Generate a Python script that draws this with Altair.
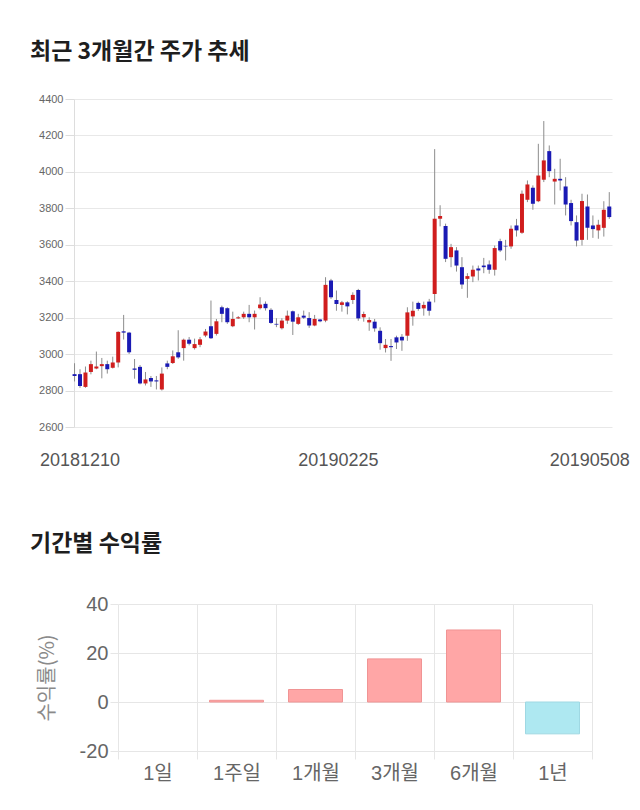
import altair as alt
import pandas as pd

# ---- trading days (Dec 10 2018 .. May 8 2019) ----
dec = [10, 11, 12, 13, 14, 17, 18, 19, 20, 21, 24, 26, 27, 28]
jan = [2, 3, 4, 7, 8, 9, 10, 11, 14, 15, 16, 17, 18, 21, 22, 23, 24, 25, 28, 29, 30, 31]
feb = [1, 7, 8, 11, 12, 13, 14, 15, 18, 19, 20, 21, 22, 25, 26, 27, 28]
mar = [4, 5, 6, 7, 8, 11, 12, 13, 14, 15, 18, 19, 20, 21, 22, 25, 26, 27, 28, 29]
apr = [1, 2, 3, 4, 5, 8, 9, 10, 11, 12, 15, 16, 17, 18, 19, 22, 23, 24, 25, 26, 29, 30]
may = [2, 3, 7, 8]
dates = ([f"201812{d:02d}" for d in dec] + [f"201901{d:02d}" for d in jan] +
         [f"201902{d:02d}" for d in feb] + [f"201903{d:02d}" for d in mar] +
         [f"201904{d:02d}" for d in apr] + [f"201905{d:02d}" for d in may])
tick_dates = ["20181210", "20190225", "20190508"]

opens = [2890, 2890, 2820, 2902, 2921, 2934, 2945, 2925, 2954, 3125,
         3118, 2921, 2930, 2839, 2869, 2856, 2806, 2949, 2951, 3010,
         3033, 3079, 3033, 3051, 3102, 3153, 3111, 3257, 3252, 3153,
         3196, 3202, 3221, 3202, 3252, 3276, 3243, 3166, 3142, 3184,
         3235, 3166, 3211, 3198, 3157, 3190, 3184, 3404, 3297, 3270,
         3284, 3297, 3352, 3202, 3174, 3178, 3128, 3033, 3044, 3092,
         3095, 3101, 3207, 3281, 3251, 3288, 3330, 3743, 3703, 3532,
         3569, 3477, 3413, 3426, 3470, 3486, 3492, 3463, 3620, 3594,
         3591, 3706, 3666, 3847, 3913, 3839, 3957, 4114, 3947, 3962,
         3920, 3829, 3724, 3627, 3810, 3706, 3679, 3693, 3810]
highs = [2950, 2917, 2932, 2964, 3014, 2979, 2964, 2986, 3125, 3215,
         3122, 2973, 2940, 2902, 2880, 2880, 2927, 2964, 3020, 3131,
         3085, 3094, 3085, 3094, 3138, 3294, 3193, 3266, 3257, 3233,
         3209, 3233, 3270, 3239, 3312, 3289, 3252, 3197, 3197, 3239,
         3239, 3221, 3239, 3230, 3215, 3193, 3422, 3413, 3349, 3292,
         3290, 3339, 3358, 3233, 3202, 3193, 3147, 3083, 3083, 3101,
         3110, 3257, 3288, 3288, 3288, 3303, 4125, 3817, 3716, 3605,
         3587, 3532, 3444, 3486, 3486, 3528, 3514, 3596, 3633, 3627,
         3706, 3742, 3898, 3953, 3926, 4154, 4279, 4145, 4017, 4072,
         3971, 3847, 3761, 3880, 3876, 3761, 3737, 3839, 3889]
lows = [2850, 2815, 2815, 2889, 2917, 2867, 2893, 2921, 2927, 3080,
        3001, 2865, 2834, 2828, 2820, 2806, 2800, 2917, 2946, 2974,
        2964, 3048, 3025, 3038, 3093, 3083, 3102, 3175, 3166, 3148,
        3193, 3193, 3175, 3135, 3245, 3239, 3166, 3148, 3135, 3166,
        3105, 3160, 3193, 3144, 3153, 3175, 3175, 3303, 3238, 3233,
        3218, 3275, 3183, 3178, 3128, 3123, 3024, 3009, 2963, 3028,
        3018, 3073, 3156, 3238, 3211, 3211, 3284, 3701, 3505, 3477,
        3453, 3358, 3309, 3395, 3404, 3444, 3441, 3431, 3560, 3514,
        3578, 3645, 3660, 3834, 3792, 3834, 3944, 3971, 3821, 3898,
        3761, 3706, 3591, 3596, 3627, 3638, 3633, 3645, 3742]
closes = [2880, 2825, 2899, 2945, 2932, 2945, 2917, 2954, 3122, 3118,
          3010, 2914, 2839, 2861, 2850, 2850, 2893, 2930, 2988, 2982,
          3079, 3057, 3055, 3081, 3124, 3087, 3180, 3221, 3175, 3193,
          3202, 3221, 3202, 3221, 3272, 3252, 3171, 3162, 3184, 3211,
          3178, 3202, 3200, 3157, 3193, 3180, 3380, 3312, 3275, 3284,
          3262, 3325, 3196, 3220, 3187, 3141, 3060, 3051, 3038, 3064,
          3075, 3229, 3238, 3248, 3270, 3238, 3743, 3758, 3523, 3587,
          3486, 3382, 3428, 3463, 3459, 3477, 3463, 3582, 3569, 3591,
          3688, 3679, 3880, 3931, 3825, 3980, 4063, 4004, 3962, 3953,
          3821, 3730, 3623, 3840, 3693, 3686, 3710, 3792, 3752]
y_ticks = [2600, 2800, 3000, 3200, 3400, 3600, 3800, 4000, 4200, 4400]

periods = ["1일", "1주일", "1개월", "3개월", "6개월", "1년"]
returns = [0.0, 0.7, 5.1, 17.6, 29.4, -13.0]
ret_ticks = [-20, 0, 20, 40]

KR = "Noto Sans CJK KR"
LAT = "Liberation Sans, Noto Sans CJK KR, sans-serif"
RED = "#d01d1d"
BLUE = "#1a1ab4"

df = pd.DataFrame({"i": list(range(len(dates))), "date": dates,
                   "open": opens, "high": highs, "low": lows, "close": closes})
tick_idx = [dates.index(d) for d in tick_dates]
label_expr = (f"datum.value == {tick_idx[0]} ? '{tick_dates[0]}' : "
              f"datum.value == {tick_idx[1]} ? '{tick_dates[1]}' : '{tick_dates[2]}'")

x_enc = alt.X(
    "i:Q",
    scale=alt.Scale(domain=[-0.1, len(dates) - 0.5], nice=False, zero=False, padding=0),
    axis=alt.Axis(values=tick_idx, labelExpr=label_expr, title=None, grid=False,
                  ticks=False, domain=False, labelFontSize=18, labelColor="#555555",
                  labelFont=LAT, labelPadding=24, labelFlush=False, labelOverlap=False,
                  labelOffset={"condition": [{"test": f"datum.value == {tick_idx[0]}", "value": 5},
                                             {"test": f"datum.value == {tick_idx[2]}", "value": -20}],
                               "value": -4}),
)
y_scale = alt.Scale(domain=[2600, 4400], nice=False, zero=False, padding=0)
y_axis = alt.Axis(values=y_ticks, title=None, labelExpr="'' + datum.value",
                  labelFontSize=11, labelColor="#666666",
                  labelFont=LAT, gridColor="#e8e8e8", tickColor="#dddddd", tickSize=9,
                  domainColor="#dddddd", labelPadding=2)

wicks = alt.Chart(df).mark_rule(color="#8c8c8c", strokeWidth=1).encode(
    x=x_enc, y=alt.Y("low:Q", scale=y_scale, axis=y_axis), y2="high:Q")
bodies = alt.Chart(df).mark_bar(size=4).encode(
    x=x_enc, y=alt.Y("open:Q", scale=y_scale, axis=y_axis), y2="close:Q",
    color=alt.condition("datum.close > datum.open", alt.value(RED), alt.value(BLUE)))

top = alt.layer(wicks, bodies).properties(
    width=538, height=328,
    title=alt.Title("최근 3개월간 주가 추세", anchor="start", frame="group", dx=-44, offset=11,
                    baseline="alphabetic", fontSize=23, font=KR, fontWeight="bold",
                    color="#1e1e1e"))

df2 = pd.DataFrame({"period": periods, "ret": returns})
bars = alt.Chart(df2).mark_bar(strokeWidth=1, size=54).encode(
    x=alt.X("period:N", sort=periods,
            scale=alt.Scale(paddingInner=0, paddingOuter=0),
            axis=alt.Axis(title=None, labelAngle=0, labelFontSize=20, labelColor="#666666",
                          labelFont=LAT, tickBand="extent", grid=True, gridColor="#e6e6e6",
                          tickColor="#e6e6e6", tickSize=8, domain=False, labelPadding=4)),
    y=alt.Y("ret:Q", scale=alt.Scale(domain=[-20, 40], nice=False),
            axis=alt.Axis(values=ret_ticks, title="수익률(%)", titleFont=KR, titleFontSize=20,
                          titleColor="#8a8a8a", titleFontWeight="normal", titlePadding=22,
                          labelExpr="'' + datum.value",
                          labelFontSize=20, labelColor="#666666", labelFont=LAT,
                          gridColor="#e6e6e6", tickColor="#e6e6e6", tickSize=8,
                          domain=False, labelPadding=2)),
    color=alt.condition("datum.ret >= 0", alt.value("#ffa6a6"), alt.value("#aee8f1")),
    stroke={"condition": [{"test": "datum.ret > 0", "value": "#f09494"},
                          {"test": "datum.ret < 0", "value": "#9fd8e3"}],
            "value": "transparent"},
).properties(
    width=474, height=147,
    title=alt.Title("기간별 수익률", anchor="start", frame="group", dx=-88, offset=20,
                    baseline="alphabetic", fontSize=23, font=KR, fontWeight="bold",
                    color="#1e1e1e"))

# zero-size anchor so that both rows start from the same left edge
anchor = alt.Chart(pd.DataFrame({"v": [0]})).mark_text(text="", align="left").encode(
    x=alt.value(0), y=alt.value(0)).properties(width=1, height=1)

chart = alt.vconcat(
    alt.hconcat(anchor, top, spacing=0),
    alt.hconcat(anchor, bars, spacing=0),
    spacing=64,
).properties(
    padding={"left": 29, "top": 41, "right": 5, "bottom": 5}
).configure_view(stroke=None)

chart.save("out.html", embed_options={"renderer": "svg", "actions": False})
